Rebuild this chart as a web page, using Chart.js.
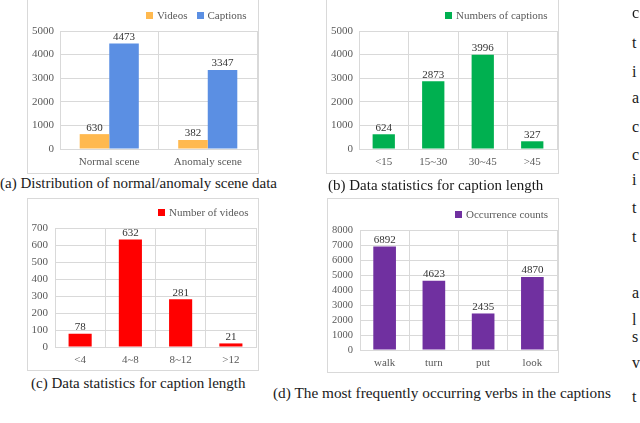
<!DOCTYPE html>
<html>
<head>
<meta charset="utf-8">
<script src="https://cdn.jsdelivr.net/npm/chart.js@4/dist/chart.umd.min.js"></script>
<style>
  html, body { margin:0; padding:0; background:#fff; }
  #page { position:relative; width:640px; height:423px; overflow:hidden; background:#fff; font-family:"Liberation Serif","Times New Roman",serif; }
  .box { position:absolute; border:1px solid #d9d9d9; box-sizing:border-box; background:#fff; }
  .box canvas { position:absolute; left:0; top:0; }
  .leg { position:absolute; font-size:11px; color:#595959; white-space:nowrap; line-height:11px; }
  .leg i { display:inline-block; width:7px; height:7px; margin-right:4px; vertical-align:0px; }
  .cap { position:absolute; font-size:15px; color:#1a1a1a; white-space:nowrap; line-height:16px; }
  .edge { position:absolute; left:632px; font-size:16px; color:#1a1a1a; line-height:16px; }
</style>
</head>
<body>
<div id="page">
  <div class="box" style="left:27px;top:-2px;width:232px;height:176px;"><canvas id="ca" width="230" height="174"></canvas></div>
  <div class="box" style="left:326px;top:-2px;width:233px;height:176px;"><canvas id="cb" width="231" height="174"></canvas></div>
  <div class="box" style="left:27px;top:198px;width:232px;height:173px;"><canvas id="cc" width="230" height="171"></canvas></div>
  <div class="box" style="left:327px;top:198px;width:232px;height:175px;"><canvas id="cd" width="230" height="173"></canvas></div>

  <div class="leg" style="left:146px;top:10px;"><i style="background:#FFB94F"></i>Videos<span style="display:inline-block;width:9px"></span><i style="background:#5B8FE3"></i>Captions</div>
  <div class="leg" style="left:445px;top:10px;"><i style="background:#00B050"></i>Numbers of captions</div>
  <div class="leg" style="left:158px;top:207px;"><i style="background:#FF0000"></i>Number of videos</div>
  <div class="leg" style="left:455px;top:209px;"><i style="background:#7030A0"></i>Occurrence counts</div>

  <div class="cap" style="left:0px;top:175px;">(a) Distribution of normal/anomaly scene data</div>
  <div class="cap" style="left:328px;top:177px;">(b) Data statistics for caption length</div>
  <div class="cap" style="left:31px;top:375px;">(c) Data statistics for caption length</div>
  <div class="cap" style="left:273px;top:385px;font-size:15.3px;">(d) The most frequently occurring verbs in the captions</div>

  <div class="edge" style="top:5px;">c</div>
  <div class="edge" style="top:35px;">t</div>
  <div class="edge" style="top:64px;">i</div>
  <div class="edge" style="top:90px;">a</div>
  <div class="edge" style="top:119px;">c</div>
  <div class="edge" style="top:147px;">c</div>
  <div class="edge" style="top:172px;">i</div>
  <div class="edge" style="top:200px;">t</div>
  <div class="edge" style="top:229px;">t</div>
  <div class="edge" style="top:285px;">a</div>
  <div class="edge" style="top:312px;">l</div>
  <div class="edge" style="top:329px;">s</div>
  <div class="edge" style="top:355px;">v</div>
  <div class="edge" style="top:389px;">t</div>
</div>
<script>
// ---- data ----
const sceneCategories = ["Normal scene", "Anomaly scene"];
const sceneVideos = [630, 382];
const sceneCaptions = [4473, 3347];

const captionLenCategories = ["<15", "15~30", "30~45", ">45"];
const captionLenCounts = [624, 2873, 3996, 327];

const videoLenCategories = ["<4", "4~8", "8~12", ">12"];
const videoLenCounts = [78, 632, 281, 21];

const verbCategories = ["walk", "turn", "put", "look"];
const verbCounts = [6892, 4623, 2435, 4870];

const FONT = "'Liberation Serif', 'Times New Roman', serif";
const GRID = "#d9d9d9";
const TICK = "#595959";

const valueLabels = {
  id: "valueLabels",
  afterDatasetsDraw(chart) {
    const ctx = chart.ctx;
    ctx.save();
    ctx.font = "11px " + FONT;
    ctx.fillStyle = "#333333";
    ctx.textAlign = "center";
    ctx.textBaseline = "bottom";
    chart.data.datasets.forEach((ds, i) => {
      const meta = chart.getDatasetMeta(i);
      meta.data.forEach((el, j) => {
        ctx.fillText(String(ds.data[j]), el.x, el.y - 1);
      });
    });
    ctx.restore();
  }
};

function makeChart(id, labels, datasets, yMax, step, g) {
  const canvas = document.getElementById(id);
  return new Chart(canvas, {
    type: "bar",
    data: { labels: labels, datasets: datasets },
    plugins: [valueLabels],
    options: {
      responsive: false,
      animation: false,
      devicePixelRatio: 1,
      layout: { padding: { left: 0, right: g.right, top: g.top, bottom: 0 } },
      plugins: { legend: { display: false }, tooltip: { enabled: false } },
      datasets: { bar: { categoryPercentage: g.cat, barPercentage: g.bar } },
      scales: {
        x: {
          grid: { color: GRID, drawTicks: false, offset: true },
          border: { color: GRID },
          ticks: { font: { family: FONT, size: 11 }, color: TICK, padding: g.xpad, maxRotation: 0, autoSkip: false },
          afterFit: (s) => { s.height = canvas.height - g.bottom; }
        },
        y: {
          min: 0, max: yMax,
          grid: { color: GRID, drawTicks: false },
          border: { color: GRID },
          ticks: { stepSize: step, autoSkip: false, font: { family: FONT, size: g.yfs }, color: TICK, padding: g.ypad, callback: (v) => String(v) },
          afterFit: (s) => { s.width = g.left; }
        }
      }
    }
  });
}

makeChart("ca", sceneCategories, [
  { label: "Videos", data: sceneVideos, backgroundColor: "#FFB94F" },
  { label: "Captions", data: sceneCaptions, backgroundColor: "#5B8FE3" }
], 5000, 1000, { left: 32, right: 1, top: 32, bottom: 150, cat: 0.6, bar: 1.0, xpad: 7, ypad: 6, yfs: 11 });

makeChart("cb", captionLenCategories, [
  { label: "Numbers of captions", data: captionLenCounts, backgroundColor: "#00B050" }
], 5000, 1000, { left: 32, right: 1, top: 32, bottom: 150, cat: 1.0, bar: 0.45, xpad: 7, ypad: 6, yfs: 11 });

makeChart("cc", videoLenCategories, [
  { label: "Number of videos", data: videoLenCounts, backgroundColor: "#FF0000" }
], 700, 100, { left: 27, right: 2, top: 29, bottom: 148, cat: 1.0, bar: 0.46, xpad: 7, ypad: 7, yfs: 11 });

makeChart("cd", verbCategories, [
  { label: "Occurrence counts", data: verbCounts, backgroundColor: "#7030A0" }
], 8000, 1000, { left: 32, right: 1, top: 31, bottom: 151, cat: 1.0, bar: 0.46, xpad: 7, ypad: 7, yfs: 10.5 });
</script>
</body>
</html>
